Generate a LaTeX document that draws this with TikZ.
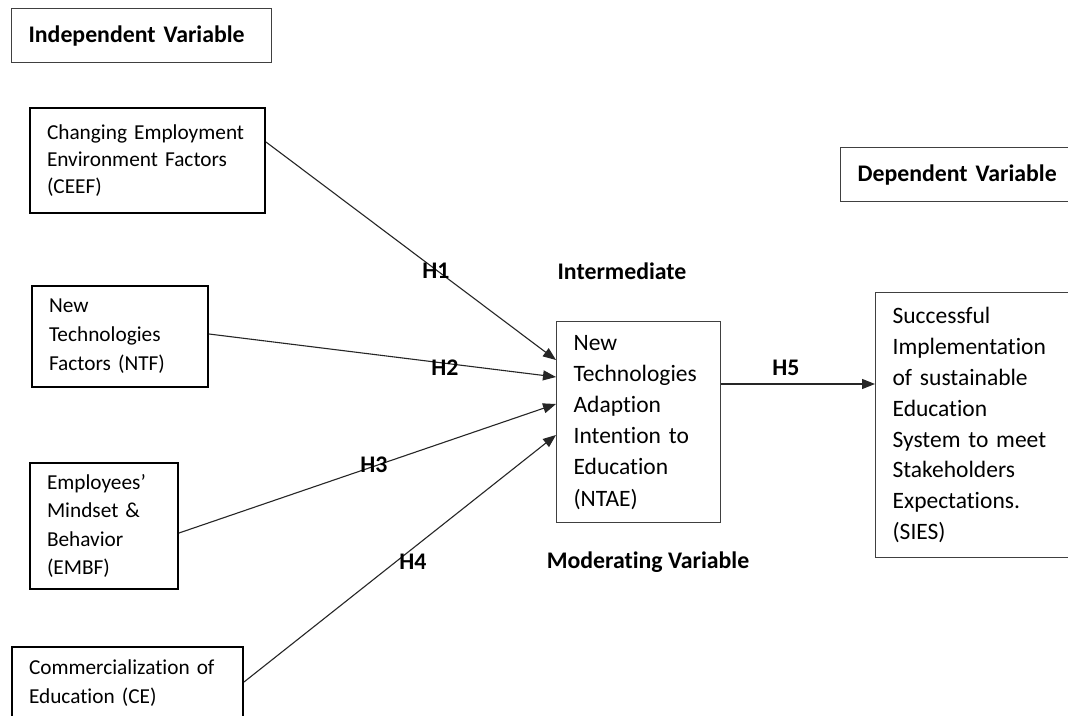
\documentclass[tikz,border=0pt]{standalone}
\usepackage{fontspec}
\setmainfont{Carlito}[Ligatures=NoCommon]
\usetikzlibrary{arrows.meta,calc}
\begin{document}
\begin{tikzpicture}[x=1pt,y=-1pt,
  boxbase/.style={draw, rectangle, anchor=north west, align=left, inner xsep=17pt, inner ysep=0pt},
  hbox/.style={boxbase, draw=black!75, line width=1.2pt, font=\fontsize{23.8}{29}\selectfont\bfseries},
  lbox/.style={boxbase, draw=black, line width=2pt},
  rbox/.style={boxbase, draw=black!75, line width=1.2pt},
  lbl/.style={font=\fontsize{23.8}{29}\selectfont\bfseries, inner sep=0pt},
  conn/.style={draw=black!85, line width=1.1pt, -{Triangle[length=13pt,width=10pt]}}
]
\useasboundingbox (0,0) rectangle (1068,715);
\fill[white] (0,0) rectangle (1068,715);

\node[hbox, text width=226pt, minimum height=54pt] (indep) at (11,8) {Independent Variable};
\node[hbox, text width=206pt, minimum height=54pt] (dep) at (840,147) {Dependent Variable};

\node[lbox, text width=201pt, minimum height=105pt, font=\fontsize{21.3}{27}\selectfont] (ceef) at (29,107)
  {Changing Employment\\Environment Factors\\(CEEF)};
\node[lbox, text width=142pt, minimum height=101pt, font=\fontsize{21.3}{29}\selectfont] (ntf) at (31,285)
  {New\\Technologies\\Factors (NTF)};
\node[lbox, text width=114pt, minimum height=126pt, font=\fontsize{21.3}{28.3}\selectfont] (embf) at (29,462)
  {Employees’\\Mindset \&\\Behavior\\(EMBF)};
\node[lbox, text width=197pt, minimum height=72pt, font=\fontsize{21.3}{29}\selectfont] (ce) at (11,646)
  {Commercialization of\\Education (CE)};

\node[rbox, text width=130pt, minimum height=201pt, font=\fontsize{23.5}{31.2}\selectfont] (ntae) at (556,321)
  {New\\Technologies\\Adaption\\Intention to\\Education\\(NTAE)};
\node[rbox, text width=166pt, minimum height=265pt, font=\fontsize{23.5}{30.9}\selectfont] (sies) at (875,292)
  {Successful\\Implementation\\of sustainable\\Education\\System to meet\\Stakeholders\\Expectations.\\(SIES)};

\node[lbl] (interm) at (622,271) {Intermediate};
\node[lbl] (moder) at (648,562) {Moderating Variable};

\draw[conn] ([yshift=-35pt]ceef.north east) -- ([yshift=-39pt]ntae.north west);
\draw[conn] ([yshift=-49pt]ntf.north east) -- ([yshift=-56pt]ntae.north west);
\draw[conn] ([yshift=-71pt]embf.north east) -- ([yshift=-83pt]ntae.north west);
\draw[conn] ([yshift=-36pt]ce.north east) -- ([yshift=-114pt]ntae.north west);
\draw[conn] ([yshift=-63pt]ntae.north east) -- ([yshift=-92pt]sies.north west);

\node[lbl] (h1) at (436,271) {H1};
\node[lbl] (h2) at (445,368) {H2};
\node[lbl] (h3) at (374,465) {H3};
\node[lbl] (h4) at (413,562) {H4};
\node[lbl] (h5) at (786,368) {H5};
\end{tikzpicture}
\end{document}
